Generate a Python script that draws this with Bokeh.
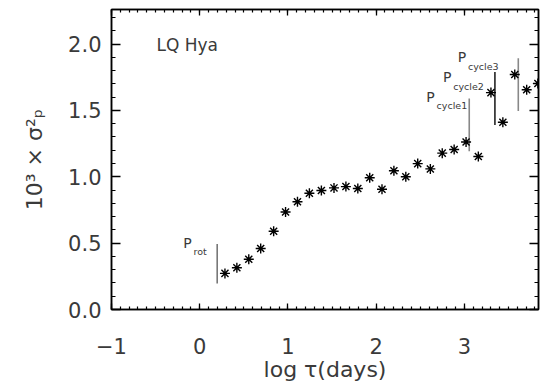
from bokeh.plotting import figure
from bokeh.models import LinearAxis, Range1d, FixedTicker, CustomJSTickFormatter
from bokeh.core.properties import value
from bokeh.embed import file_html
from bokeh.resources import INLINE

# data: log tau (days) and 10^3 x sigma_p^2
log_tau = [0.286, 0.421, 0.556, 0.691, 0.838, 0.973, 1.108, 1.243, 1.379, 1.522,
           1.657, 1.792, 1.927, 2.066, 2.201, 2.336, 2.471, 2.614, 2.749, 2.884,
           3.019, 3.158, 3.301, 3.436, 3.571, 3.706, 3.833]
sigma2 = [0.272, 0.314, 0.379, 0.460, 0.589, 0.735, 0.812, 0.876, 0.896, 0.916,
          0.926, 0.911, 0.993, 0.906, 1.045, 1.000, 1.099, 1.059, 1.178, 1.205,
          1.262, 1.153, 1.634, 1.411, 1.770, 1.656, 1.703]

# period marker lines
period_x = [0.198, 3.055, 3.346, 3.611]
period_y0 = [0.195, 1.192, 1.39, 1.496]
period_y1 = [0.493, 1.589, 1.789, 1.893]
period_colors = ["#777777", "#888888", "#222222", "#888888"]

# period labels ("P" + subscript)
label_p_x = [-0.187, 2.568, 2.757, 2.926]
label_p_y = [0.504, 1.603, 1.752, 1.901]
label_sub = ["rot", "cycle1", "cycle2", "cycle3"]
label_sub_x = [-0.07, 2.685, 2.874, 3.04]
label_sub_y = [0.437, 1.534, 1.682, 1.831]

title_text = "LQ Hya"
title_x = -0.49
title_y = 1.992

x_ticks = [-1, 0, 1, 2, 3]
y_ticks = [0.0, 0.5, 1.0, 1.5, 2.0]
x_minor = [round(-1 + 0.1 * i, 2) for i in range(49)]
y_minor = [round(0.1 * i, 2) for i in range(23)]

FONT = "DejaVu Sans"
TXT = "#3a3a3a"

p = figure(width=540, height=384, output_backend="svg", toolbar_location=None,
           x_range=Range1d(-1, 3.84), y_range=Range1d(0, 2.26),
           x_axis_label="log \u03c4(days)", y_axis_label="10\u00b3 \u00d7 \u03c3\u00b2\u209a",
           min_border_left=111, min_border_right=2, min_border_top=9, min_border_bottom=71)
p.grid.visible = False
p.outline_line_color = "black"
p.outline_line_width = 1.5
p.background_fill_color = "white"
p.border_fill_color = "white"

for ax in p.xaxis:
    ax.ticker = FixedTicker(ticks=x_ticks, minor_ticks=x_minor)
    ax.major_tick_in = 6
    ax.major_tick_out = 0
    ax.minor_tick_in = 3
    ax.minor_tick_out = 0
    ax.major_label_standoff = 28
    ax.axis_label_standoff = 0
for ax in p.yaxis:
    ax.ticker = FixedTicker(ticks=y_ticks, minor_ticks=y_minor)
    ax.major_tick_in = 9
    ax.major_tick_out = 0
    ax.minor_tick_in = 4
    ax.minor_tick_out = 0
    ax.major_label_standoff = 10
    ax.axis_label_standoff = 18
for ax in list(p.xaxis) + list(p.yaxis):
    ax.axis_line_color = "black"
    ax.axis_line_width = 1.5
    ax.major_tick_line_color = "black"
    ax.minor_tick_line_color = "black"
    ax.major_tick_line_width = 1.3
    ax.minor_tick_line_width = 1.2
    ax.major_label_text_font = FONT
    ax.major_label_text_font_size = "21px"
    ax.major_label_text_color = TXT
    ax.axis_label_text_font = FONT
    ax.axis_label_text_font_size = "22px"
    ax.axis_label_text_font_style = "normal"
    ax.axis_label_text_color = TXT

p.yaxis[0].formatter = CustomJSTickFormatter(code="return tick.toFixed(1);")
p.xaxis[0].formatter = CustomJSTickFormatter(code="return tick < 0 ? '\u2212' + Math.abs(tick) : String(tick);")

# mirrored axes (ticks only)
top = LinearAxis(ticker=FixedTicker(ticks=x_ticks, minor_ticks=x_minor),
                 formatter=CustomJSTickFormatter(code="return '';"),
                 major_label_standoff=0, major_label_text_font_size="1px",
                 major_tick_in=6, major_tick_out=0, minor_tick_in=3, minor_tick_out=0,
                 axis_line_width=1.5, major_tick_line_width=1.3, minor_tick_line_width=1.2)
right = LinearAxis(ticker=FixedTicker(ticks=y_ticks, minor_ticks=y_minor),
                   formatter=CustomJSTickFormatter(code="return '';"),
                   major_label_standoff=0, major_label_text_font_size="1px",
                   major_tick_in=9, major_tick_out=0, minor_tick_in=4, minor_tick_out=0,
                   axis_line_width=1.5, major_tick_line_width=1.3, minor_tick_line_width=1.2)
p.add_layout(top, "above")
p.add_layout(right, "right")

# period lines
p.segment(x0=period_x, y0=period_y0, x1=period_x, y1=period_y1,
          line_color=period_colors, line_width=1.6)

# data points
p.scatter(log_tau, sigma2, marker="asterisk", size=10, line_color="black", line_width=1.4)

# labels
p.text(x=label_p_x, y=label_p_y, text=["P"] * len(label_p_x), text_font=value(FONT),
       text_font_size="14px", text_color=TXT, text_baseline="alphabetic", text_align="left")
p.text(x=label_sub_x, y=label_sub_y, text=label_sub, text_font=value(FONT),
       text_font_size="9.5px", text_color=TXT, text_baseline="alphabetic", text_align="left")
p.text(x=[title_x], y=[title_y], text=[title_text], text_font=value(FONT),
       text_font_size="17px", text_color=TXT, text_baseline="alphabetic", text_align="left")

open("out.html", "w").write(file_html(p, INLINE))
